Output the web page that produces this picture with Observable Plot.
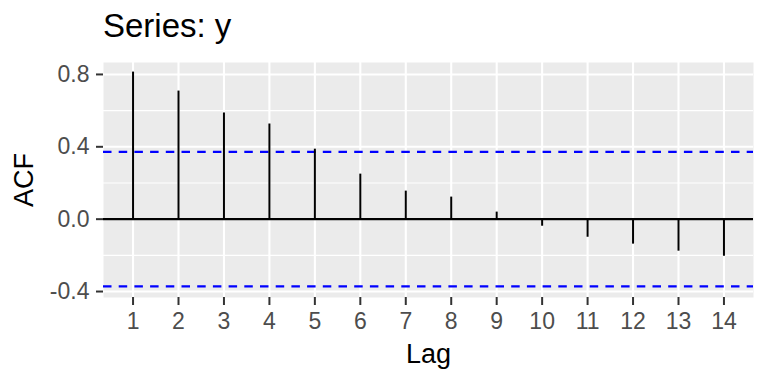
<!DOCTYPE html>
<html>
<head>
<meta charset="utf-8">
<script src="https://cdn.jsdelivr.net/npm/d3@7"></script>
<script src="https://cdn.jsdelivr.net/npm/@observablehq/plot@0.6"></script>
<style>
  html, body { margin: 0; padding: 0; background: #fff; }
  #wrap { width: 768px; height: 384px; overflow: hidden; font-family: "Liberation Sans", Arial, sans-serif; }
  #title { height: 49px; padding-top: 1px; line-height: 50px; font-size: 33px; padding-left: 103px; color: #000; white-space: nowrap; }
  svg { display: block; }
</style>
</head>
<body>
<div id="wrap">
  <div id="title">Series: y</div>
  <div id="chart"></div>
</div>
<script>
const lags = [1, 2, 3, 4, 5, 6, 7, 8, 9, 10, 11, 12, 13, 14];
const acfValues = [0.813, 0.708, 0.587, 0.526, 0.387, 0.249, 0.155, 0.122, 0.039, -0.039, -0.100, -0.138, -0.177, -0.205];
const ciBound = 0.372;
const yTicks = [-0.4, 0.0, 0.4, 0.8];
const yMinor = [-0.2, 0.2, 0.6];
const xLabel = "Lag";
const yLabel = "ACF";

const data = lags.map((lag, i) => ({lag, acf: acfValues[i]}));

const chart = Plot.plot({
  width: 768,
  height: 334,
  marginLeft: 103,
  marginRight: 15,
  marginTop: 12,
  marginBottom: 87,
  style: {fontFamily: "'Liberation Sans', Arial, sans-serif", fontSize: "23px", background: "white"},
  x: {domain: [0.35, 14.65], label: null},
  y: {domain: [-0.433, 0.866], label: null},
  marks: [
    Plot.frame({fill: "#EBEBEB", stroke: null}),
    Plot.gridY(yMinor, {stroke: "white", strokeOpacity: 1, strokeWidth: 1.1}),
    Plot.gridY(yTicks, {stroke: "white", strokeOpacity: 1, strokeWidth: 2.1}),
    Plot.gridX(lags, {stroke: "white", strokeOpacity: 1, strokeWidth: 2.1}),
    Plot.ruleY([ciBound, -ciBound], {stroke: "#0000FF", strokeWidth: 2.2, strokeDasharray: "8.5,7.2"}),
    Plot.ruleY([0], {stroke: "black", strokeWidth: 2.1}),
    Plot.ruleX(data, {x: "lag", y1: 0, y2: "acf", stroke: "black", strokeWidth: 2}),
    Plot.axisY(yTicks, {tickSize: 7, tickPadding: 7, stroke: "#333333", strokeWidth: 2, fill: "#4D4D4D", fontSize: 23, tickFormat: d => d.toFixed(1), label: null}),
    Plot.axisX(lags, {tickSize: 8, tickPadding: 7, stroke: "#333333", strokeWidth: 2, fill: "#4D4D4D", fontSize: 23, tickFormat: d => String(d), label: null}),
    Plot.text([xLabel], {frameAnchor: "bottom", dy: 65, fontSize: 27, fill: "black", text: d => d}),
    Plot.text([yLabel], {frameAnchor: "left", textAnchor: "middle", lineAnchor: "middle", dx: -79, rotate: -90, fontSize: 27, fill: "black", text: d => d})
  ]
});
document.getElementById("chart").appendChild(chart);
</script>
</body>
</html>
